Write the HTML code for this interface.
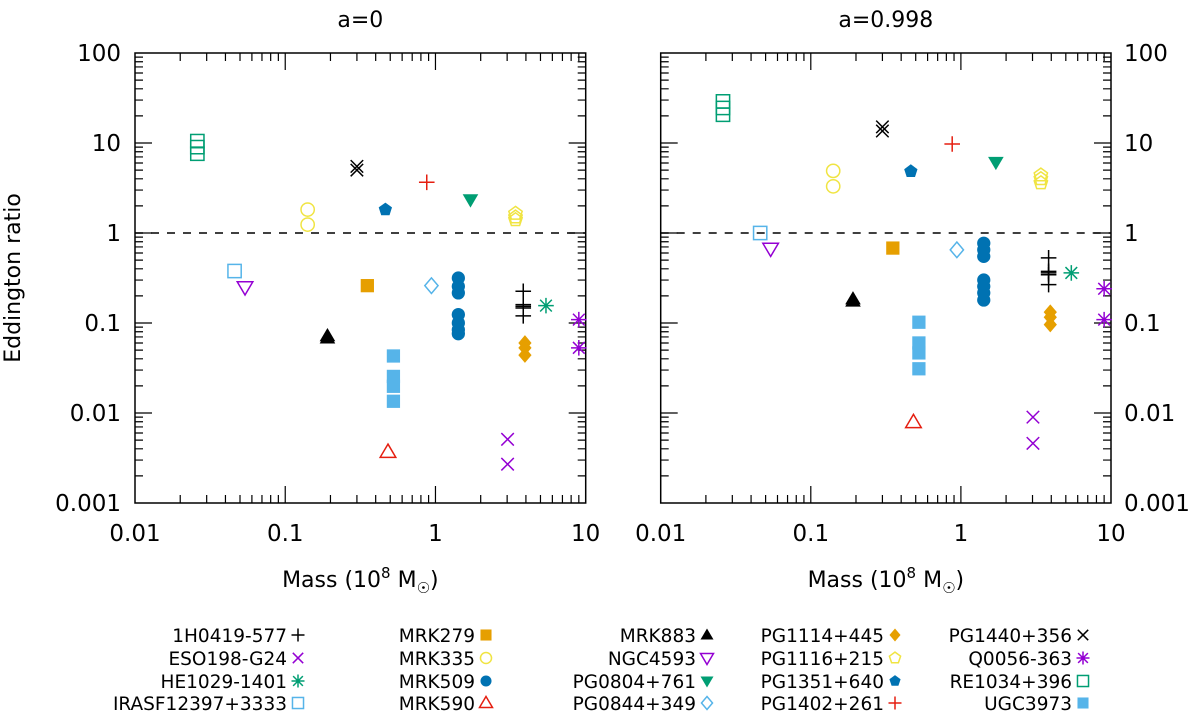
<!DOCTYPE html>
<html><head><meta charset="utf-8"><style>
html,body{margin:0;padding:0;background:#fff;width:1200px;height:713px;overflow:hidden}
svg{font-family:"DejaVu Sans","Liberation Sans",sans-serif}
</style></head><body>
<svg id="chart" width="1200" height="713" viewBox="0 0 1200 713" xmlns="http://www.w3.org/2000/svg"></svg>
<script>
const sources = ["1H0419-577","ESO198-G24","HE1029-1401","IRASF12397+3333","MRK279","MRK335","MRK509","MRK590","MRK883","NGC4593","PG0804+761","PG0844+349","PG1114+445","PG1116+215","PG1351+640","PG1402+261","PG1440+356","Q0056-363","RE1034+396","UGC3973"];
const masses = [3.84,3.02,5.44,0.046,0.352,0.141,1.42,0.483,0.191,0.054,1.71,0.94,3.94,3.41,0.464,0.875,0.30,9.0,0.026,0.525];
const ratiosA0 = [[0.225,0.16,0.153,0.147,0.12],[0.0051,0.0027],[0.156],[0.378],[0.26],[1.82,1.24],[0.316,0.255,0.216,0.124,0.1,0.084,0.076],[0.0037],[0.072,0.068],[0.25],[2.34],[0.26],[0.06,0.053,0.044],[1.65,1.5,1.4],[1.82],[3.66],[5.5,5.0],[0.109,0.053],[10.5,9.0,7.6],[0.043,0.0255,0.0198,0.0135]];
const ratiosA998 = [[0.53,0.375,0.36,0.344,0.267],[0.009,0.0046],[0.36],[1.0],[0.68],[4.9,3.3],[0.77,0.65,0.55,0.30,0.255,0.216,0.18],[0.0079],[0.185,0.175],[0.67],[6.1],[0.65],[0.132,0.116,0.096],[4.4,4.0,3.6],[4.84],[9.75],[15.1,13.6],[0.24,0.109],[29,24.5,20.6],[0.102,0.060,0.0465,0.031]];
const xTicks = ["0.01","0.1","1","10"];
const yTicks = ["0.001","0.01","0.1","1","10","100"];
const styles = [["plus","#000"],["cross","#9400D3"],["star","#009E73"],["sqo","#56B4E9"],["sqf","#E69F00"],["ciro","#F0E442"],["cirf","#0072B2"],["trio","#E51E10"],["trif","#000"],["dtrio","#9400D3"],["dtrif","#009E73"],["diao","#56B4E9"],["diaf","#E69F00"],["pento","#F0E442"],["pentf","#0072B2"],["plus","#E51E10"],["cross","#000"],["star","#9400D3"],["sqo","#009E73"],["sqf","#56B4E9"]];

const NS="http://www.w3.org/2000/svg";
const svg=document.getElementById('chart');
function mk(tag,attrs,parent){const e=document.createElementNS(NS,tag);for(const k in attrs)e.setAttribute(k,attrs[k]);(parent||svg).appendChild(e);return e;}
const Y0=503,Ydec=90;
function yS(v){return Y0-(Math.log10(v)+3)*Ydec;}

function marker(g,type,col,x,y,s){
  let e;const r=s;
  if(type==="plus"){e=mk('path',{d:`M${x-r} ${y}H${x+r}M${x} ${y-r}V${y+r}`,stroke:col,'stroke-width':1.5,fill:'none'},g);}
  else if(type==="cross"){const q=r*0.8;e=mk('path',{d:`M${x-q} ${y-q}L${x+q} ${y+q}M${x-q} ${y+q}L${x+q} ${y-q}`,stroke:col,'stroke-width':1.5,fill:'none'},g);}
  else if(type==="star"){const q=r*0.75;e=mk('path',{d:`M${x-r} ${y}H${x+r}M${x} ${y-r}V${y+r}M${x-q} ${y-q}L${x+q} ${y+q}M${x-q} ${y+q}L${x+q} ${y-q}`,stroke:col,'stroke-width':1.5,fill:'none'},g);}
  else if(type==="sqo"||type==="sqf"){const q=r*0.85;e=mk('rect',{x:x-q,y:y-q,width:2*q,height:2*q,stroke:type==="sqo"?col:'none',fill:type==="sqf"?col:'#fff','fill-opacity':type==="sqf"?1:0,'stroke-width':1.5},g);}
  else if(type==="cirf"||type==="ciro"){e=mk('circle',{cx:x,cy:y,r:r*0.85,stroke:type==="ciro"?col:'none',fill:type==="cirf"?col:'none','stroke-width':1.5},g);}
  else if(type.indexOf("tri")>=0){const d=type[0]==="d"?-1:1;const f=type.endsWith("f");
    e=mk('path',{d:`M${x} ${y-d*r}L${x+r} ${y+d*r*0.7}L${x-r} ${y+d*r*0.7}Z`,stroke:f?'none':col,fill:f?col:'none','stroke-width':1.5},g);}
  else if(type==="diao"||type==="diaf"){const f=type==="diaf";e=mk('path',{d:`M${x} ${y-r}L${x+r*0.85} ${y}L${x} ${y+r}L${x-r*0.85} ${y}Z`,stroke:f?'none':col,fill:f?col:'none','stroke-width':1.5},g);}
  else {const f=type==="pentf";let p=[];for(let i=0;i<5;i++){const a=-Math.PI/2+i*2*Math.PI/5;p.push((x+r*0.9*Math.cos(a)).toFixed(1)+","+(y+r*0.9*Math.sin(a)).toFixed(1));}
    e=mk('polygon',{points:p.join(" "),stroke:f?'none':col,fill:f?col:'none','stroke-width':1.5},g);}
  return e;
}

function panel(L,R,ratios,title,labelsRight,name){
  const g=mk('g',{});
  
  
  const xS=v=>L+(Math.log10(v)+2)*(R-L)/3;
  let d="";
  for(let dec=-2;dec<1;dec++){for(let k=1;k<10;k++){const x=xS(k*Math.pow(10,dec));const len=k===1?17:8;if(dec===-2&&k===1)continue;d+=`M${x} ${Y0}V${Y0-len}M${x} 53V${53+len}`;}}
  for(let dec=-3;dec<2;dec++){for(let k=1;k<10;k++){const y=yS(k*Math.pow(10,dec));const len=k===1?17:8;if(dec===-3&&k===1)continue;d+=`M${L} ${y}H${L+len}M${R} ${y}H${R-len}`;}}
  mk('path',{d:d,stroke:'#000','stroke-width':1.2,fill:'none'},g);
  const dash=mk('line',{x1:L,x2:R,y1:yS(1),y2:yS(1),stroke:'#000','stroke-width':1.5,'stroke-dasharray':'8,8'},g);
  
  
  const fr=mk('rect',{x:L,y:53,width:R-L,height:Y0-53,fill:'none',stroke:'#000','stroke-width':1.5},g);
  
  
  xTicks.forEach((t,i)=>{const e=mk('text',{x:xS(Math.pow(10,i-2)),y:541,'text-anchor':'middle','font-size':23},g);e.textContent=t;
    
    });
  yTicks.forEach((t,i)=>{const e=mk('text',{x:labelsRight?R+13:L-14,y:yS(Math.pow(10,i-3))+8,'text-anchor':labelsRight?'start':'end','font-size':23},g);e.textContent=t;
    
    });
  const tt=mk('text',{x:(L+R)/2,y:27,'text-anchor':'middle','font-size':22},g);tt.textContent=title;
  
  
  const xt=mk('text',{x:(L+R)/2,y:587,'text-anchor':'middle','font-size':22},g);
  xt.innerHTML='Mass (10<tspan dy="-9" font-size="15">8</tspan><tspan dy="9"> M</tspan><tspan dy="6" font-size="15">☉</tspan><tspan dy="-6">)</tspan>';
  
  
  sources.forEach((s,i)=>{ratios[i].forEach(v=>{const m=marker(g,styles[i][0],styles[i][1],xS(masses[i]),yS(v),7.8);
    
    });});
}
panel(135,585.7,ratiosA0,"a=0",false,"panel-a0");
panel(660.7,1111,ratiosA998,"a=0.998",true,"panel-a0998");
const yt=mk('text',{x:0,y:0,'text-anchor':'middle','font-size':22,transform:'translate(20,278) rotate(-90)'});
yt.textContent="Eddington ratio";


const colX=[298,486,707,895,1083],rowY=[635,658,681,703];
sources.forEach((s,i)=>{const c=Math.floor(i/4),r=i%4;const x=colX[c],y=rowY[r];
  const lg=mk('g',{});
  
  
  const t=mk('text',{x:x-11,y:y+7,'text-anchor':'end','font-size':18.5},lg);t.textContent=s;
  marker(lg,styles[i][0],styles[i][1],x,y,6.5);
});
</script>
</body></html>
